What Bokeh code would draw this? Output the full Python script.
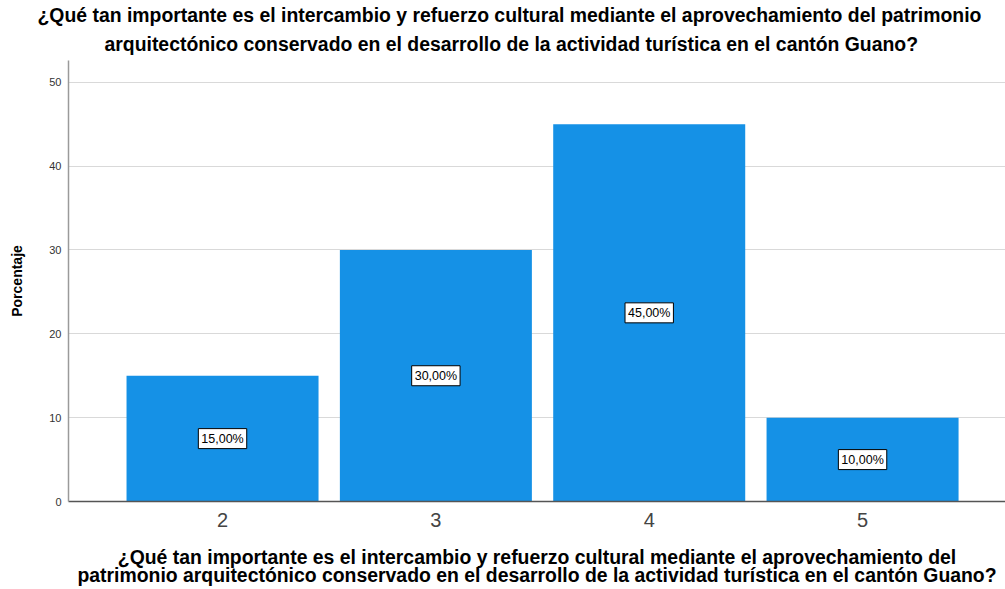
from bokeh.plotting import figure
from bokeh.models import ColumnDataSource, FixedTicker, Range1d, Title
from bokeh.core.properties import value
from bokeh.embed import file_html
from bokeh.resources import INLINE

categories = [2, 3, 4, 5]
percentages = [15.0, 30.0, 45.0, 10.0]
bar_labels = ["15,00%", "30,00%", "45,00%", "10,00%"]
y_ticks = [0, 10, 20, 30, 40, 50]

title_lines = [
    "¿Qué tan importante es el intercambio y refuerzo cultural mediante el aprovechamiento del patrimonio",
    "arquitectónico conservado en el desarrollo de la actividad turística en el cantón Guano?",
]
xlabel_lines = [
    "¿Qué tan importante es el intercambio y refuerzo cultural mediante el aprovechamiento del",
    "patrimonio arquitectónico conservado en el desarrollo de la actividad turística en el cantón Guano?",
]

FONT = "Liberation Sans"

source = ColumnDataSource(dict(
    x=categories,
    top=percentages,
    mid=[v / 2 for v in percentages],
    lab=bar_labels,
))

p = figure(width=1005, height=589, output_backend="svg", toolbar_location=None,
           x_range=Range1d(1.278, 5.670), y_range=Range1d(0, 52.6),
           min_border_left=68, min_border_right=0, min_border_top=60, min_border_bottom=88)
p.outline_line_color = None
p.background_fill_color = "white"

p.vbar(x="x", top="top", width=0.9, source=source, fill_color="#1591e6", line_color=None)

p.text(x="x", y="mid", text="lab", source=source, text_align="center",
       text_baseline="middle", text_font_size="12.5px", text_font=value(FONT),
       text_color="black", background_fill_color="white",
       border_line_color="black", border_line_width=1, padding=3)

# axes
p.xaxis.ticker = FixedTicker(ticks=categories)
p.xaxis.major_tick_line_color = None
p.xaxis.minor_tick_line_color = None
p.xaxis.axis_line_color = "#555555"
p.xaxis.axis_line_width = 1.5
p.xaxis.major_label_text_font = FONT
p.xaxis.major_label_text_font_size = "20px"
p.xaxis.major_label_text_color = "#444444"
p.xaxis.major_label_standoff = 5
p.xaxis.axis_label = "\n".join(xlabel_lines)
p.xaxis.axis_label_text_font = FONT
p.xaxis.axis_label_text_font_style = "bold"
p.xaxis.axis_label_text_font_size = "19.4px"
p.xaxis.axis_label_text_color = "black"
p.xaxis.axis_label_text_line_height = 0.85
p.xaxis.axis_label_standoff = 16

p.yaxis.ticker = FixedTicker(ticks=y_ticks)
p.yaxis.major_tick_line_color = None
p.yaxis.minor_tick_line_color = None
p.yaxis.axis_line_color = "#9a9a9a"
p.yaxis.axis_line_width = 1.5
p.yaxis.major_label_text_font = FONT
p.yaxis.major_label_text_font_size = "11px"
p.yaxis.major_label_text_color = "#333333"
p.yaxis.major_label_standoff = 1
p.yaxis.axis_label = "Porcentaje"
p.yaxis.axis_label_text_font = FONT
p.yaxis.axis_label_text_font_style = "bold"
p.yaxis.axis_label_text_font_size = "14px"
p.yaxis.axis_label_text_color = "black"
p.yaxis.axis_label_standoff = 21

p.xgrid.grid_line_color = None
p.ygrid.grid_line_color = "#d9d9d9"
p.ygrid.grid_line_width = 1

p.title = None
# title lines above (added bottom-up)
p.add_layout(Title(text=title_lines[1], align="left", offset=36, text_font=FONT,
                   text_font_style="bold", text_font_size="19.4px", text_color="black",
                   text_line_height=1.2, standoff=11), "above")
p.add_layout(Title(text=title_lines[0], align="left", offset=-31, text_font=FONT,
                   text_font_style="bold", text_font_size="19.4px", text_color="black",
                   text_line_height=1.2, standoff=0), "above")

open("out.html", "w").write(file_html(p, INLINE))
